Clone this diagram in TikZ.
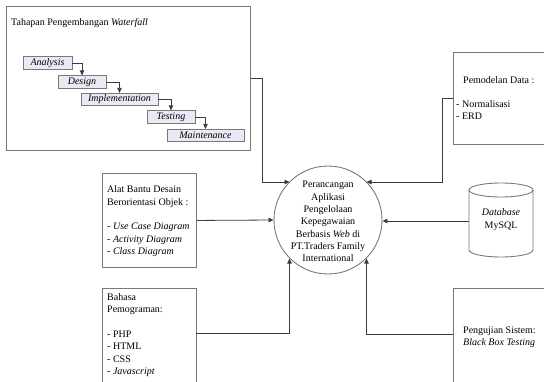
\documentclass[tikz,border=0pt]{standalone}
\usepackage{fontspec}
\setmainfont{Liberation Serif}
\usetikzlibrary{arrows.meta}
\definecolor{stagefill}{RGB}{234,234,246}
\definecolor{framec}{RGB}{120,120,120}
\definecolor{connc}{RGB}{60,60,60}
\begin{document}
\begin{tikzpicture}[x=1pt,y=-1pt,
  frame/.style={draw=framec, line width=0.9pt, inner sep=0pt},
  stage/.style={draw=framec, fill=stagefill, line width=0.7pt, minimum height=12.5pt, inner sep=0pt, font=\itshape\fontsize{10}{12}\selectfont},
  conn/.style={draw=connc, line width=0.8pt},
  arr/.style={conn, -{Triangle[length=5pt,width=4.5pt]}},
  txt/.style={font=\fontsize{10}{12.35}\selectfont, inner sep=0pt, align=left, anchor=base west},
  ctxt/.style={font=\fontsize{10}{12.35}\selectfont, inner sep=0pt, align=center}
]
\useasboundingbox (0,0) rectangle (544,381);

% Waterfall frame
\node[frame, minimum width=244pt, minimum height=144pt, anchor=north west] (wf) at (6,6) {};
\node[txt] (wftitle) at (11,25.5) {Tahapan Pengembangan \textit{Waterfall}};
\node[stage, minimum width=49pt] (s1) at (47.5,63) {Analysis};
\node[stage, minimum width=48pt] (s2) at (82,82) {Design};
\node[stage, minimum width=77pt] (s3) at (119.5,99.5) {Implementation};
\node[stage, minimum width=48pt] (s4) at (171,117) {Testing};
\node[stage, minimum width=77pt] (s5) at (205.5,135.5) {Maintenance};
\draw[arr] (s1.east) -| (s2.north);
\draw[arr] (s2.east) -| (s3.north);
\draw[arr] (s3.east) -| (s4.north);
\draw[arr] (s4.east) -| (s5.north);

% central process
\node[circle, draw=framec, line width=0.9pt, minimum size=108pt, inner sep=0pt] (main) at (328,220) {};
\node[ctxt] (mtext) at (328,221.5) {Perancangan\\Aplikasi\\Pengelolaan\\Kepegawaian\\Berbasis \textit{Web} di\\PT.Traders Family\\International};

% Pemodelan Data
\node[frame, minimum width=110pt, minimum height=92pt, anchor=north west] (pd) at (453,52) {};
\node[txt] (pdt1) at (463,83.5) {Pemodelan Data :};
\node[txt] (pdt2) at (456,119.5) {- Normalisasi\\- ERD};

% Alat Bantu
\node[frame, minimum width=94pt, minimum height=94pt, anchor=north west] (ab) at (102,173) {};
\node[txt] (abt) at (107,254.5) {Alat Bantu Desain\\Berorientasi Objek :\\[12.35pt]- \textit{Use Case Diagram}\\- \textit{Activity Diagram}\\- \textit{Class Diagram}};

% Bahasa
\node[frame, minimum width=94pt, minimum height=110pt, anchor=north west] (bh) at (102,288) {};
\node[txt] (bht) at (107,374.5) {Bahasa\\Pemograman:\\[12.35pt]- PHP\\- HTML\\- CSS\\- \textit{Javascript}};

% Pengujian
\node[frame, minimum width=110pt, minimum height=110pt, anchor=north west] (pj) at (453,288) {};
\node[txt] (pjt) at (463,345.5) {Pengujian Sistem:\\\textit{Black Box Testing}};

% Database cylinder
\draw[draw=framec, line width=0.9pt] (501,190) ellipse [x radius=32, y radius=7];
\draw[draw=framec, line width=0.9pt] (469,190) -- (469,250) arc[start angle=180, end angle=0, x radius=32, y radius=7] -- (533,190);
\node[ctxt] (db) at (501,219.5) {\textit{Database}\\MySQL};
\coordinate (dbl) at (469,221);

% connectors
\coordinate (c1) at (262,182);
\coordinate (c2) at (442,182);
\coordinate (bho) at (196,333);
\coordinate (pjo) at (453,334);
\draw[arr] (wf.east) -| (c1) -- (c1 -| main.135);
\draw[arr] (pd.west) -| (c2) -- (c2 -| main.45);
\draw[arr] (ab.east) -- (main.west);
\draw[arr] (dbl) -- (dbl -| main.east);
\draw[arr] (bho) -| (main.225);
\draw[arr] (pjo) -| (main.315);
\end{tikzpicture}
\end{document}
